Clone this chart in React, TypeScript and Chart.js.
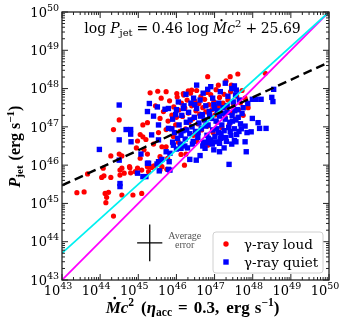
import React, { useEffect, useRef } from 'react';
import { Chart, registerables } from 'chart.js';

Chart.register(...registerables);

// ---- Axis data (log10 exponents) ----
const decadeExps = [43, 44, 45, 46, 47, 48, 49, 50];
const minorMultipliers = [2, 3, 4, 5, 6, 7, 8, 9];

// ---- Relations (log-space) ----
const fitSlope = 0.46;
const fitIntercept = 25.69;
const cyanSlope = 0.9;
const cyanIntercept = 5.0;
const equalitySlope = 1.0;
const equalityIntercept = 0.0;

// ---- Average error bar (log-space) ----
const errorCenterLog = [45.3, 43.97];
const errorHalfLog = [0.33, 0.48];

// ---- gamma-ray loud: [log Mdot c^2, log Pjet] ----
const loudLog: [number, number][] = [
  [43.39, 45.28], [43.58, 45.3], [43.67, 45.77], [44.04, 45.68], [44.1, 45.72], [44.13, 45.26],
  [44.22, 45.29], [44.17, 45.16], [44.15, 45.02], [44.28, 45.68], [44.35, 44.67], [44.52, 45.87],
  [44.52, 45.74], [44.63, 45.79], [44.77, 45.96], [44.8, 45.8], [44.57, 45.22], [44.86, 45.22],
  [45.09, 45.26], [44.92, 45.83], [44.98, 45.92], [45.09, 45.87], [45.27, 45.83], [45.31, 45.96],
  [45.41, 45.98], [45.57, 45.87], [45.62, 45.96], [45.75, 45.89], [44.08, 45.92], [44.57, 45.92],
  [44.78, 45.93], [45.24, 45.96], [45.35, 45.94], [44.28, 46.24], [44.5, 46.29], [44.57, 46.24],
  [45.05, 46.18], [45.24, 46.29], [45.57, 46.22], [45.62, 46.48], [44.98, 46.63], [45.05, 46.8],
  [45.12, 46.74], [45.2, 46.67], [45.53, 46.85], [45.73, 46.93], [44.35, 46.93], [45.12, 47.05],
  [45.24, 47.11], [45.57, 47.22], [44.5, 47.18], [45.31, 47.89], [45.51, 47.93], [45.73, 47.92],
  [46.01, 47.87], [46.18, 47.87], [46.31, 47.94], [46.4, 47.96], [46.82, 48.31], [47.1, 48.09],
  [47.41, 48.31], [47.61, 48.38], [48.33, 48.4], [47.3, 48.2], [47.44, 48.09], [45.77, 46.18],
  [46.12, 46.28], [46.25, 46.29], [46.21, 46.0], [46.53, 46.62], [46.82, 46.52], [45.73, 46.48],
  [45.66, 47.4], [45.45, 47.55], [45.6, 47.75], [45.4, 46.55], [45.15, 46.4], [44.95, 46.45],
  [47.8, 47.75], [47.88, 47.5], [47.75, 47.3],
  [45.78, 47.15], [45.85, 46.95], [45.92, 46.75], [46.0, 47.25], [46.05, 46.6],
  [45.82, 47.68], [45.88, 47.31], [45.93, 47.52], [45.98, 47.05], [46.02, 47.78], [46.06, 47.44],
  [46.09, 46.88], [46.13, 47.62], [46.16, 47.27], [46.19, 47.83], [46.22, 47.49], [46.24, 46.95],
  [46.28, 47.7], [46.31, 47.36], [46.33, 47.12], [46.37, 47.88], [46.4, 47.55], [46.43, 47.21],
  [46.45, 46.78], [46.48, 47.68], [46.51, 47.42], [46.53, 47.95], [46.56, 47.08], [46.59, 47.61],
  [46.61, 47.33], [46.64, 47.79], [46.66, 46.92], [46.69, 47.5], [46.72, 47.18], [46.74, 47.72],
  [46.77, 47.39], [46.8, 47.9], [46.82, 47.02], [46.85, 47.58], [46.88, 47.26], [46.9, 47.84],
  [46.93, 47.45], [46.96, 46.85], [46.98, 47.66], [47.01, 47.31], [47.04, 47.97], [47.07, 47.12],
  [47.1, 47.54], [47.13, 47.77], [47.16, 47.38], [47.19, 46.98], [47.22, 47.62], [47.25, 47.85],
  [47.28, 47.25], [47.31, 47.48], [47.35, 47.7], [47.38, 47.05], [47.42, 47.92], [47.46, 47.36],
  [47.5, 47.58], [47.55, 47.2], [47.58, 47.8], [47.63, 47.45], [47.68, 47.63], [47.72, 47.95],
];

// ---- gamma-ray quiet: [log Mdot c^2, log Pjet] ----
const quietLog: [number, number][] = [
  [44.5, 47.57], [45.29, 47.61], [45.5, 47.52], [45.24, 47.4], [45.4, 47.28], [45.7, 47.46],
  [45.79, 47.48], [45.53, 47.05], [44.68, 46.93], [44.8, 46.93], [44.8, 46.81], [44.5, 46.66],
  [44.81, 46.61], [45.35, 46.79], [45.53, 46.66], [43.98, 46.41], [45.07, 46.29], [44.5, 46.13],
  [45.24, 46.05], [45.53, 46.09], [45.62, 46.15], [45.73, 46.35], [44.52, 45.44], [44.52, 45.52],
  [44.98, 45.79], [45.12, 45.7], [45.2, 45.7], [45.27, 46.05], [45.49, 46.03], [45.55, 45.85],
  [45.79, 45.89], [45.79, 46.96],
  [46.53, 48.09], [46.82, 47.98], [47.28, 48.14], [47.99, 47.72], [47.87, 47.61], [48.5, 47.77],
  [47.72, 47.35], [47.99, 47.22], [48.14, 47.11], [47.8, 47.02], [47.85, 46.85], [47.96, 46.87],
  [47.56, 46.61], [47.8, 46.61], [47.52, 46.64], [47.83, 46.35], [47.38, 46.02], [47.13, 46.35],
  [46.75, 46.44], [47.13, 46.57], [47.02, 46.61], [46.82, 46.58], [46.52, 46.13], [46.12, 46.44],
  [45.92, 46.52], [45.83, 46.31], [45.81, 46.09], [45.83, 45.87], [48.55, 47.98], [48.53, 47.66],
  [48.22, 47.72], [48.09, 47.72], [47.52, 48.07], [47.57, 47.96], [47.55, 47.83], [48.18, 46.96],
  [48.35, 46.96],
  [46.05, 47.65], [46.25, 47.85], [46.45, 47.75], [46.7, 47.88], [46.95, 47.75], [47.15, 47.92],
  [47.35, 47.8], [47.45, 48.0], [46.9, 48.05], [47.65, 47.7],
  [45.9, 47.2], [45.95, 46.85], [46.0, 47.45], [46.03, 46.7], [46.07, 47.05], [46.1, 46.55],
  [46.14, 47.3], [46.17, 46.9], [46.2, 47.55], [46.23, 46.68], [46.26, 47.12], [46.29, 46.45],
  [46.32, 47.38], [46.35, 46.82], [46.38, 47.62], [46.41, 47.0], [46.44, 46.62], [46.47, 47.25],
  [46.5, 46.88], [46.53, 47.48], [46.56, 46.72], [46.59, 47.1], [46.62, 47.7], [46.65, 46.95],
  [46.68, 47.32], [46.71, 46.6], [46.74, 47.18], [46.77, 47.55], [46.8, 46.78], [46.83, 47.05],
  [46.86, 47.4], [46.89, 46.66], [46.92, 47.22], [46.95, 46.92], [46.98, 47.58], [47.01, 46.75],
  [47.04, 47.15], [47.07, 47.42], [47.1, 46.85], [47.13, 47.28], [47.16, 46.7], [47.19, 47.05],
  [47.22, 47.5], [47.25, 46.9], [47.28, 47.2], [47.31, 46.62], [47.34, 47.38], [47.37, 46.98],
  [47.4, 47.12], [47.43, 46.78], [47.46, 47.3], [47.49, 47.65], [47.52, 46.95], [47.56, 47.18],
  [47.6, 47.45], [47.64, 46.88], [47.68, 47.08],
  [45.88, 46.95], [45.98, 47.32], [46.12, 46.78], [46.18, 47.48], [46.27, 46.92], [46.36, 47.18],
  [46.42, 46.55], [46.48, 47.58], [46.57, 46.85], [46.63, 47.28], [46.69, 46.5], [46.76, 47.02],
  [46.84, 46.7], [46.87, 47.3], [46.94, 46.55], [47.0, 47.48], [47.06, 46.95], [47.11, 47.62],
  [47.17, 46.82], [47.23, 47.35], [47.29, 46.72], [47.33, 47.55], [47.41, 46.88], [47.47, 47.15],
  [47.53, 47.42], [47.58, 46.8], [47.62, 47.25], [47.7, 46.95], [47.75, 47.5], [47.45, 46.55],
  [47.25, 46.45], [46.98, 46.4], [46.62, 46.25], [46.35, 46.15], [46.22, 46.5], [46.0, 46.42],
  [45.9, 46.6],
];

// ---- Text ----
const legendLabels = ['γ-ray loud', 'γ-ray quiet'];
const errorLabel = ['Average', 'error'];

const SERIF = '"Liberation Serif", serif';
const WIDE = '"DejaVu Serif", serif';

type Seg = { t: string; size: number; italic?: boolean; bold?: boolean; dy?: number; dot?: boolean; pad?: number; fam?: string };

function segFont(s: Seg, fam: string) {
  return `${s.italic ? 'italic ' : ''}${s.bold ? 'bold ' : ''}${s.size}px ${s.fam || fam}`;
}

function measureRich(ctx: CanvasRenderingContext2D, segs: Seg[], fam: string) {
  let w = 0;
  for (const s of segs) {
    ctx.font = segFont(s, fam);
    w += ctx.measureText(s.t).width + (s.pad || 0);
  }
  return w;
}

function drawRich(ctx: CanvasRenderingContext2D, segs: Seg[], x: number, y: number, align: 'left' | 'center' | 'right', fam: string) {
  const w = measureRich(ctx, segs, fam);
  let cx = align === 'left' ? x : align === 'center' ? x - w / 2 : x - w;
  ctx.textAlign = 'left';
  ctx.textBaseline = 'alphabetic';
  for (const s of segs) {
    ctx.font = segFont(s, fam);
    const sw = ctx.measureText(s.t).width;
    ctx.fillText(s.t, cx, y + (s.dy || 0));
    if (s.dot) {
      ctx.beginPath();
      ctx.arc(cx + sw * 0.6, y + (s.dy || 0) - s.size * 0.88, s.size * 0.08, 0, Math.PI * 2);
      ctx.fill();
    }
    cx += sw + (s.pad || 0);
  }
  return w;
}

const pow10 = (v: number) => Math.pow(10, v);

const frame = {
  id: 'frameDecor',
  afterDraw(chart: any) {
    const { ctx, chartArea: a, scales } = chart;
    const xs = scales.x;
    const ys = scales.y;
    ctx.save();
    ctx.fillStyle = '#000';
    ctx.strokeStyle = '#000';

    // error cross
    const cx = xs.getPixelForValue(pow10(errorCenterLog[0]));
    const cy = ys.getPixelForValue(pow10(errorCenterLog[1]));
    const x0 = xs.getPixelForValue(pow10(errorCenterLog[0] - errorHalfLog[0]));
    const x1 = xs.getPixelForValue(pow10(errorCenterLog[0] + errorHalfLog[0]));
    const y0 = ys.getPixelForValue(pow10(errorCenterLog[1] - errorHalfLog[1]));
    const y1 = ys.getPixelForValue(pow10(errorCenterLog[1] + errorHalfLog[1]));
    ctx.lineWidth = 1.3;
    ctx.beginPath();
    ctx.moveTo(x0, cy); ctx.lineTo(x1, cy);
    ctx.moveTo(cx, y0); ctx.lineTo(cx, y1);
    ctx.stroke();
    ctx.fillStyle = '#555';
    ctx.font = `10px ${SERIF}`;
    ctx.textAlign = 'center';
    ctx.textBaseline = 'alphabetic';
    ctx.fillText(errorLabel[0], cx + 35, cy - 4);
    ctx.fillText(errorLabel[1], cx + 35, cy + 5);
    ctx.fillStyle = '#000';

    // frame
    ctx.strokeStyle = '#222';
    ctx.lineWidth = 1.3;
    ctx.strokeRect(a.left, a.top, a.right - a.left, a.bottom - a.top);

    // ticks
    ctx.lineWidth = 1;
    ctx.strokeStyle = '#222';
    ctx.beginPath();
    for (const d of decadeExps) {
      const px = xs.getPixelForValue(pow10(d));
      const py = ys.getPixelForValue(pow10(d));
      ctx.moveTo(px, a.bottom); ctx.lineTo(px, a.bottom - 6);
      ctx.moveTo(px, a.top); ctx.lineTo(px, a.top + 6);
      ctx.moveTo(a.left, py); ctx.lineTo(a.left + 6, py);
      ctx.moveTo(a.right, py); ctx.lineTo(a.right - 6, py);
      if (d < decadeExps[decadeExps.length - 1]) {
        for (const m of minorMultipliers) {
          const v = m * pow10(d);
          const mx = xs.getPixelForValue(v);
          const my = ys.getPixelForValue(v);
          ctx.moveTo(mx, a.bottom); ctx.lineTo(mx, a.bottom - 3);
          ctx.moveTo(mx, a.top); ctx.lineTo(mx, a.top + 3);
          ctx.moveTo(a.left, my); ctx.lineTo(a.left + 3, my);
          ctx.moveTo(a.right, my); ctx.lineTo(a.right - 3, my);
        }
      }
    }
    ctx.stroke();

    // tick labels
    ctx.fillStyle = '#000';
    for (const d of decadeExps) {
      const px = xs.getPixelForValue(pow10(d));
      const py = ys.getPixelForValue(pow10(d));
      const segs: Seg[] = [
        { t: '10', size: 13 },
        { t: String(d), size: 9.5, dy: -6 },
      ];
      const w = measureRich(ctx, segs, WIDE);
      drawRich(ctx, segs, px - 4 - w / 2, a.bottom + 15, 'left', WIDE);
      drawRich(ctx, segs, a.left - 3, py + 4.7, 'right', WIDE);
    }

    // annotation
    const ann: Seg[] = [
      { t: 'log', size: 14, pad: 4 },
      { t: 'P', size: 14, italic: true },
      { t: 'jet', size: 10, dy: 3, pad: 4 },
      { t: '=', size: 14, pad: 3.5 },
      { t: '0.46', size: 14, pad: 4 },
      { t: 'log', size: 14, pad: 4 },
      { t: 'M', size: 14, italic: true, dot: true },
      { t: 'c', size: 14, italic: true },
      { t: '2', size: 10, dy: -6, pad: 4 },
      { t: '+', size: 14, pad: 3.5 },
      { t: '25.69', size: 14 },
    ];
    drawRich(ctx, ann, 192.5, 32.5, 'center', WIDE);

    // x title
    const xt: Seg[] = [
      { t: 'M', size: 17, italic: true, bold: true, dot: true },
      { t: 'c', size: 17, italic: true, bold: true },
      { t: '2', size: 11.5, bold: true, dy: -7, pad: 7 },
      { t: '(', size: 17, bold: true },
      { t: 'η', size: 17, italic: true, bold: true },
      { t: 'acc', size: 11.5, bold: true, dy: 3, pad: 6 },
      { t: '=', size: 17, bold: true, pad: 6 },
      { t: '0.3,', size: 17, bold: true, pad: 7 },
      { t: 'erg', size: 17, bold: true, pad: 5 },
      { t: 's', size: 17, bold: true },
      { t: '−1', size: 11.5, bold: true, dy: -7 },
      { t: ')', size: 17, bold: true },
    ];
    drawRich(ctx, xt, 192.5, 313, 'center', SERIF);

    // y title
    const yt: Seg[] = [
      { t: 'P', size: 16, italic: true, bold: true },
      { t: 'jet', size: 11, bold: true, dy: 3, pad: 5 },
      { t: '(erg', size: 16, bold: true, pad: 4 },
      { t: 's', size: 16, bold: true },
      { t: '−1', size: 11, bold: true, dy: -6 },
      { t: ')', size: 16, bold: true },
    ];
    ctx.save();
    ctx.translate(20, 146.5);
    ctx.rotate(-Math.PI / 2);
    drawRich(ctx, yt, 0, 0, 'center', SERIF);
    ctx.restore();

    // legend
    const lx = 213, ly = 232, lw = 110, lh = 41;
    ctx.fillStyle = 'rgba(255,255,255,0.85)';
    ctx.strokeStyle = '#d0d0d0';
    ctx.lineWidth = 1;
    ctx.beginPath();
    (ctx as any).roundRect ? (ctx as any).roundRect(lx, ly, lw, lh, 3) : ctx.rect(lx, ly, lw, lh);
    ctx.fill();
    ctx.stroke();
    ctx.fillStyle = '#ff0000';
    ctx.beginPath();
    ctx.arc(226, 244, 2.7, 0, Math.PI * 2);
    ctx.fill();
    ctx.fillStyle = '#0000ff';
    ctx.fillRect(223.3, 259.3, 5.4, 5.4);
    ctx.fillStyle = '#000';
    ctx.font = `13.5px ${WIDE}`;
    ctx.textAlign = 'left';
    ctx.textBaseline = 'alphabetic';
    ctx.fillText(legendLabels[0], 244, 248.5);
    ctx.fillText(legendLabels[1], 244, 266.5);

    ctx.restore();
  },
};

function lineData(slope: number, intercept: number) {
  return decadeExps
    .filter((d) => d === decadeExps[0] || d === decadeExps[decadeExps.length - 1])
    .map((d) => ({ x: pow10(d), y: pow10(slope * d + intercept) }));
}

export default function App() {
  const ref = useRef<HTMLCanvasElement | null>(null);

  useEffect(() => {
    if (!ref.current) return;
    const chart = new Chart(ref.current, {
      type: 'scatter',
      data: {
        datasets: [
          {
            label: 'fit',
            data: lineData(fitSlope, fitIntercept),
            showLine: true,
            borderColor: '#000',
            borderWidth: 2.4,
            borderDash: [9, 5],
            pointRadius: 0,
            order: 0,
          },
          {
            label: 'cyan',
            data: lineData(cyanSlope, cyanIntercept),
            showLine: true,
            borderColor: '#00f0f0',
            borderWidth: 1.8,
            pointRadius: 0,
            order: 0,
          },
          {
            label: 'equality',
            data: lineData(equalitySlope, equalityIntercept),
            showLine: true,
            borderColor: '#ff00ff',
            borderWidth: 1.8,
            pointRadius: 0,
            order: 0,
          },
          {
            label: legendLabels[1],
            data: quietLog.map(([x, y]) => ({ x: pow10(x), y: pow10(y) })),
            pointStyle: 'rect',
            pointRadius: 3.8,
            backgroundColor: '#0000ff',
            borderColor: '#0000ff',
            borderWidth: 0,
            order: 1,
          },
          {
            label: legendLabels[0],
            data: loudLog.map(([x, y]) => ({ x: pow10(x), y: pow10(y) })),
            pointStyle: 'circle',
            pointRadius: 2.6,
            backgroundColor: '#ff0000',
            borderColor: '#ff0000',
            borderWidth: 0,
            order: 2,
          },
        ],
      },
      options: {
        animation: false,
        responsive: false,
        layout: { padding: { top: 12, right: 23, left: 0, bottom: 0 } },
        plugins: { legend: { display: false }, tooltip: { enabled: false } },
        scales: {
          x: {
            type: 'logarithmic',
            min: pow10(decadeExps[0]),
            max: pow10(decadeExps[decadeExps.length - 1]),
            ticks: { display: false },
            grid: { display: false },
            border: { display: false },
            afterFit: (s: any) => { s.height = 48; },
          },
          y: {
            type: 'logarithmic',
            min: pow10(decadeExps[0]),
            max: pow10(decadeExps[decadeExps.length - 1]),
            ticks: { display: false },
            grid: { display: false },
            border: { display: false },
            afterFit: (s: any) => { s.width = 62; },
          },
        },
      },
      plugins: [frame],
    });
    return () => chart.destroy();
  }, []);

  return (
    <div style={{ position: 'fixed', left: 0, top: 0, width: 352, height: 328, background: '#fff' }}>
      <canvas ref={ref} width={352} height={328} style={{ width: 352, height: 328 }} />
    </div>
  );
}
